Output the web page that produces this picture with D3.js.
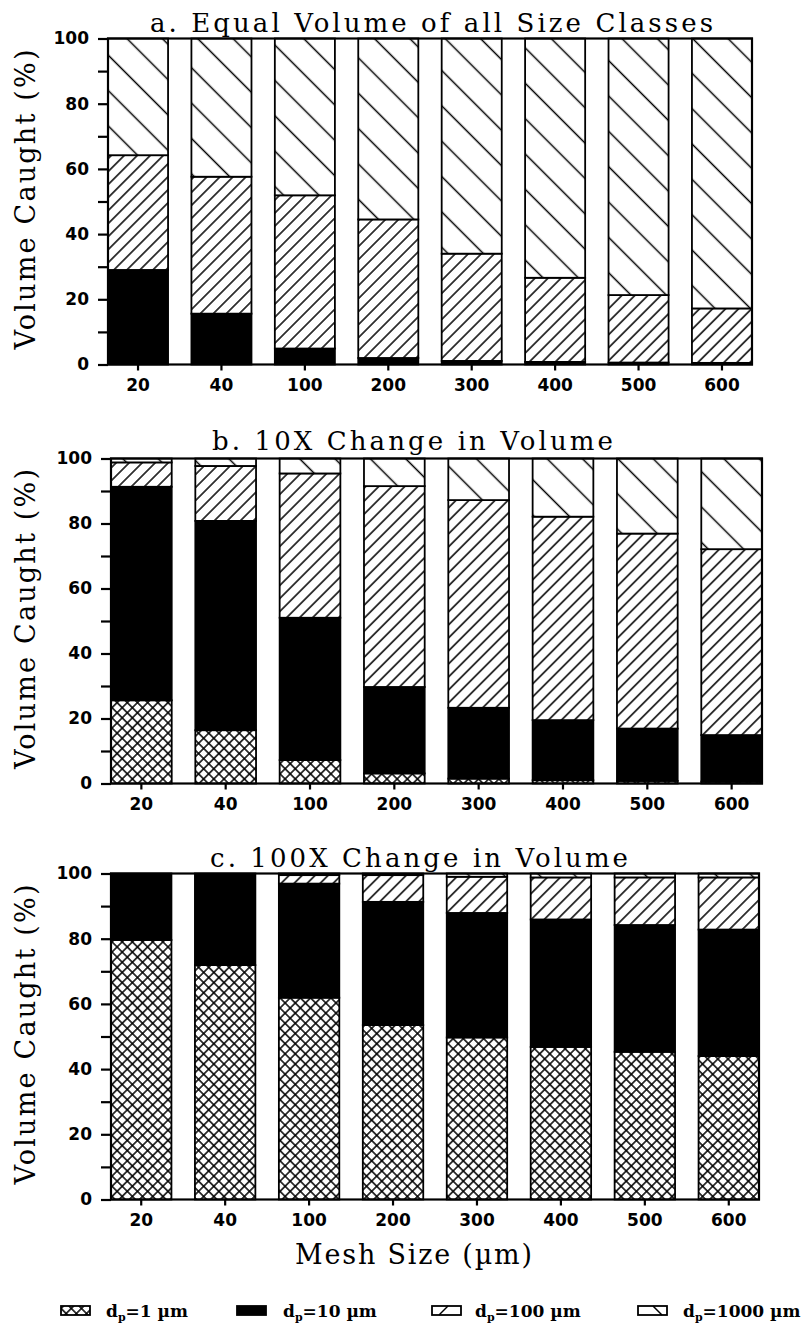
<!DOCTYPE html>
<html>
<head>
<meta charset="utf-8">
<script src="https://cdn.jsdelivr.net/npm/d3@7/dist/d3.min.js"></script>
<style>
  body { margin: 0; background: #fff; }
  svg { display: block; }
</style>
</head>
<body>
<div id="chart"></div>
<script>

var svgWidth = 810;
var svgHeight = 1327;

// mesh sizes (um) along the x axis
var meshSizes = ["20", "40", "100", "200", "300", "400", "500", "600"];

// particle size classes, bottom of the stack first
var sizeClasses = ["1", "10", "100", "1000"];

// a. equal volume of all size classes (% caught)
var equal_1    = [0, 0, 0, 0, 0, 0, 0, 0];
var equal_10   = [29.0, 15.6, 4.9, 2.0, 1.1, 0.8, 0.6, 0.5];
var equal_100  = [35.2, 42.0, 47.0, 42.5, 32.9, 25.8, 20.7, 16.7];
var equal_1000 = [35.8, 42.4, 48.1, 55.5, 66.0, 73.4, 78.7, 82.8];

// b. 10X change in volume
var tenX_1    = [25.6, 16.4, 7.2, 3.1, 1.5, 1.0, 0.8, 0.6];
var tenX_10   = [65.7, 64.4, 43.8, 26.6, 21.8, 18.5, 16.1, 14.3];
var tenX_100  = [7.5, 16.9, 44.4, 61.8, 63.9, 62.6, 60.0, 57.2];
var tenX_1000 = [1.2, 2.3, 4.6, 8.5, 12.8, 17.9, 23.1, 27.9];

// c. 100X change in volume
var hundredX_1    = [79.6, 71.9, 61.9, 53.5, 49.7, 46.8, 45.3, 44.0];
var hundredX_10   = [20.4, 28.1, 35.0, 37.8, 38.2, 39.1, 38.9, 38.8];
var hundredX_100  = [0, 0, 2.6, 8.2, 11.1, 12.9, 14.6, 16.0];
var hundredX_1000 = [0, 0, 0.5, 0.5, 1.0, 1.2, 1.2, 1.2];

var yTicks = [0, 10, 20, 30, 40, 50, 60, 70, 80, 90, 100];

// layout of the three panels (scan is slightly skewed, so each has its own box)
var panels = [
  { title: "a. Equal Volume of all Size Classes",
    series: [equal_1, equal_10, equal_100, equal_1000],
    left: 108, right: 752, top: 38.5, bottom: 364.5,
    titleX: 150, titleW: 563, titleY: 32 },
  { title: "b. 10X Change in Volume",
    series: [tenX_1, tenX_10, tenX_100, tenX_1000],
    left: 111, right: 762, top: 458.5, bottom: 783.5,
    titleX: 212, titleW: 401, titleY: 450 },
  { title: "c. 100X Change in Volume",
    series: [hundredX_1, hundredX_10, hundredX_100, hundredX_1000],
    left: 111, right: 759, top: 873.5, bottom: 1199.5,
    titleX: 210, titleW: 418, titleY: 867 }
];

var fills = ["url(#cross)", "#000", "url(#fwd)", "url(#back)"];

var serif = "'DejaVu Serif', serif";
var sans = "'DejaVu Sans', sans-serif";

var svg = d3.select("#chart")
  .append("svg")
  .attr("width", svgWidth)
  .attr("height", svgHeight);

/*
 * HATCH PATTERNS
 */
var defs = svg.append("defs");

function linePattern(id, spacing, angle, cross) {
  var h = spacing / 2;
  var p = defs.append("pattern")
    .attr("id", id)
    .attr("patternUnits", "userSpaceOnUse")
    .attr("width", spacing)
    .attr("height", spacing)
    .attr("patternTransform", `rotate(${angle})`);
  p.append("rect")
    .attr("width", spacing).attr("height", spacing)
    .attr("fill", "#fff");
  p.append("line")
    .attr("x1", h).attr("y1", 0).attr("x2", h).attr("y2", spacing)
    .attr("stroke", "#000").attr("stroke-width", 1.5);
  if (cross) {
    p.append("line")
      .attr("x1", 0).attr("y1", h).attr("x2", spacing).attr("y2", h)
      .attr("stroke", "#000").attr("stroke-width", 1.5);
  }
}

linePattern("cross", 7.2, 45, true);
linePattern("fwd", 9.2, 45, false);
linePattern("back", 25, -45, false);

/*
 * PANELS
 */
panels.forEach(function(panel) {

  var g = svg.append("g");

  var xScale = d3.scaleBand()
    .domain(meshSizes)
    .range([panel.left, panel.right])
    .paddingInner(0.28)
    .paddingOuter(0);

  var yScale = d3.scaleLinear()
    .domain([0, 100])
    .range([panel.bottom, panel.top]);

  // stacked segments
  var stackData = meshSizes.map(function(m, i) {
    var row = { mesh: m };
    sizeClasses.forEach(function(s, k) { row[s] = panel.series[k][i]; });
    return row;
  });

  var stacked = d3.stack().keys(sizeClasses)(stackData);

  g.selectAll("g.layer")
    .data(stacked)
    .enter()
    .append("g")
    .attr("class", "layer")
    .attr("fill", (d, k) => fills[k])
    .selectAll("rect")
    .data(d => d.filter(v => v[1] - v[0] > 0))
    .enter()
    .append("rect")
    .attr("x", d => xScale(d.data.mesh))
    .attr("width", xScale.bandwidth())
    .attr("y", d => yScale(d[1]))
    .attr("height", d => yScale(d[0]) - yScale(d[1]))
    .attr("stroke", "#000")
    .attr("stroke-width", 1.8);

  // plot frame
  g.append("rect")
    .attr("x", panel.left)
    .attr("y", panel.top)
    .attr("width", panel.right - panel.left)
    .attr("height", panel.bottom - panel.top)
    .attr("fill", "none")
    .attr("stroke", "#000")
    .attr("stroke-width", 2.2);

  // y axis
  var leftAxis = d3.axisLeft(yScale)
    .tickValues(yTicks)
    .tickSize(10)
    .tickSizeOuter(0)
    .tickPadding(9)
    .tickFormat(d => d % 20 === 0 ? d : "");

  var yAxis = g.append("g")
    .attr("transform", `translate(${panel.left}, 0)`)
    .call(leftAxis);
  yAxis.select(".domain").remove();
  yAxis.selectAll("line").attr("stroke-width", 2.2);
  yAxis.selectAll("text")
    .attr("font-family", sans)
    .attr("font-weight", "bold")
    .attr("font-size", 17)
    .attr("fill", "#000");

  // x axis
  var bottomAxis = d3.axisBottom(xScale)
    .tickSize(6)
    .tickSizeOuter(0);

  var xAxis = g.append("g")
    .attr("transform", `translate(0, ${panel.bottom})`)
    .call(bottomAxis);
  xAxis.select(".domain").remove();
  xAxis.selectAll("line").attr("stroke-width", 2.2);
  xAxis.selectAll("text")
    .attr("y", 26)
    .attr("dy", 0)
    .attr("font-family", sans)
    .attr("font-weight", "bold")
    .attr("font-size", 17)
    .attr("fill", "#000");

  // panel title
  g.append("text")
    .attr("x", panel.titleX)
    .attr("y", panel.titleY)
    .attr("textLength", panel.titleW)
    .attr("lengthAdjust", "spacing")
    .attr("font-family", serif)
    .attr("font-size", 26)
    .text(panel.title);

  // y axis label
  g.append("text")
    .attr("transform", `translate(35, ${(panel.top + panel.bottom) / 2 - 2}) rotate(-90)`)
    .attr("text-anchor", "middle")
    .attr("textLength", 300)
    .attr("lengthAdjust", "spacing")
    .attr("font-family", serif)
    .attr("font-size", 27)
    .text("Volume Caught (%)");
});

// x axis label (shared)
svg.append("text")
  .attr("x", 295)
  .attr("y", 1264)
  .attr("textLength", 237)
  .attr("lengthAdjust", "spacing")
  .attr("font-family", serif)
  .attr("font-size", 27)
  .text("Mesh Size (\u00b5m)");

/*
 * LEGEND
 */
var legendLabels = ["1", "10", "100", "1000"];
var legendSwatchX = [61, 237, 432, 638];
var legendTextX = [106, 283, 475, 683];

var legend = svg.append("g");

legendLabels.forEach(function(lab, k) {
  var sx = legendSwatchX[k];

  legend.append("rect")
    .attr("x", sx)
    .attr("y", 1306)
    .attr("width", 29)
    .attr("height", 9)
    .attr("fill", k < 2 ? fills[k] : "#fff")
    .attr("stroke", "#000")
    .attr("stroke-width", 1.8);

  // single diagonal stroke for the hatched swatches
  if (k === 2) {
    legend.append("line")
      .attr("x1", sx + 7).attr("y1", 1315)
      .attr("x2", sx + 16).attr("y2", 1306)
      .attr("stroke", "#000").attr("stroke-width", 1.5);
  }
  if (k === 3) {
    legend.append("line")
      .attr("x1", sx + 15).attr("y1", 1306)
      .attr("x2", sx + 24).attr("y2", 1315)
      .attr("stroke", "#000").attr("stroke-width", 1.5);
  }

  var t = legend.append("text")
    .attr("x", legendTextX[k])
    .attr("y", 1317)
    .attr("font-family", serif)
    .attr("font-weight", "bold")
    .attr("font-size", 17);
  t.append("tspan").text("d");
  t.append("tspan")
    .attr("dy", 4)
    .attr("font-size", 11)
    .text("p");
  t.append("tspan")
    .attr("dy", -4)
    .text("=" + lab + " \u00b5m");
});

</script>
</body>
</html>
